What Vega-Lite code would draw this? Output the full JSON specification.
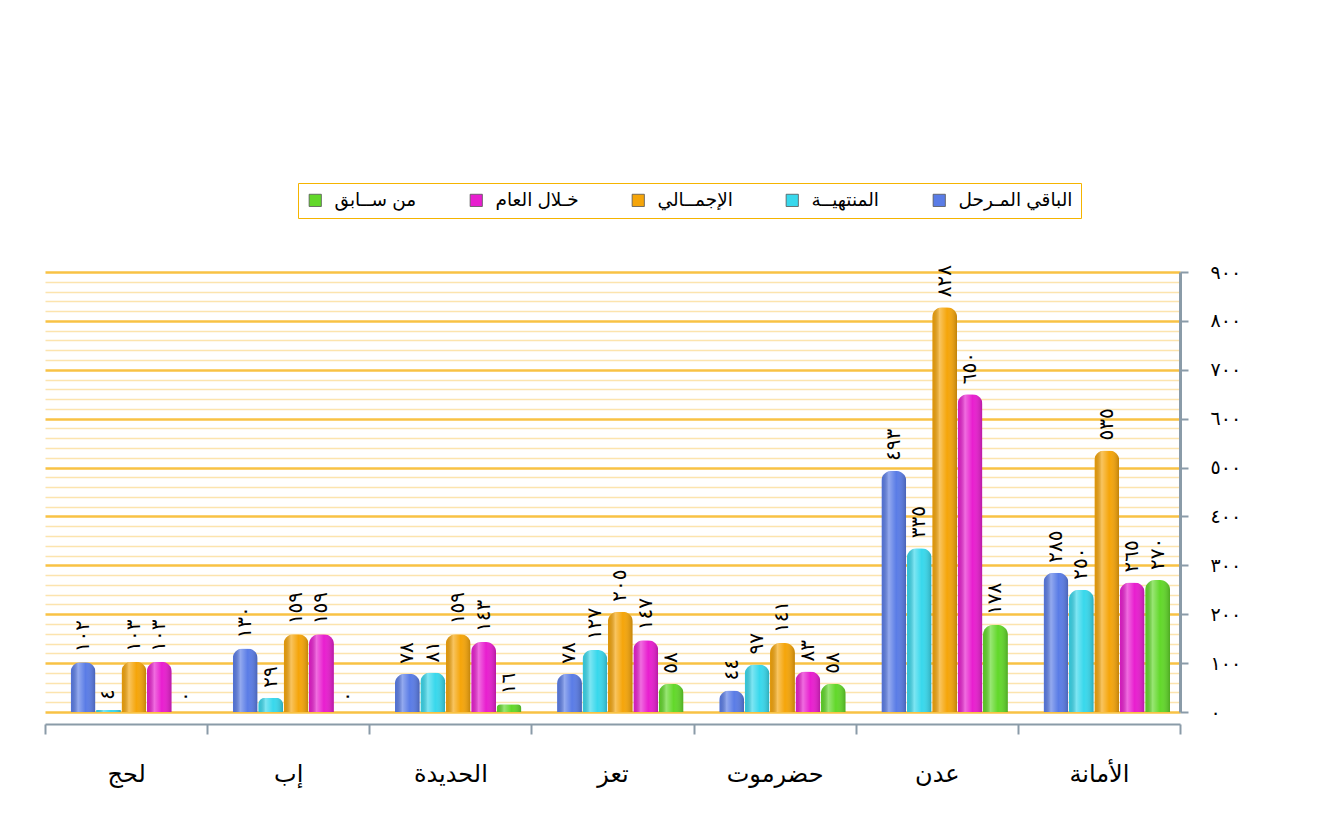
{
  "$schema": "https://vega.github.io/schema/vega-lite/v6.json",
  "width": 1135,
  "height": 440,
  "padding": {"left": 45, "top": 272, "right": 150, "bottom": 122},
  "autosize": {"type": "none"},
  "background": "white",
  "config": {"view": {"stroke": null}, "font": "Liberation Sans, DejaVu Sans"},
  "data": {"values": [
    {"region": "الأمانة", "series": "الباقي المـرحل", "value": 285, "label": "٢٨٥"},
    {"region": "الأمانة", "series": "المنتهيــة", "value": 250, "label": "٢٥٠"},
    {"region": "الأمانة", "series": "الإجمــالي", "value": 535, "label": "٥٣٥"},
    {"region": "الأمانة", "series": "خـلال العام", "value": 265, "label": "٢٦٥"},
    {"region": "الأمانة", "series": "من ســابق", "value": 270, "label": "٢٧٠"},
    {"region": "عدن", "series": "الباقي المـرحل", "value": 493, "label": "٤٩٣"},
    {"region": "عدن", "series": "المنتهيــة", "value": 335, "label": "٣٣٥"},
    {"region": "عدن", "series": "الإجمــالي", "value": 828, "label": "٨٢٨"},
    {"region": "عدن", "series": "خـلال العام", "value": 650, "label": "٦٥٠"},
    {"region": "عدن", "series": "من ســابق", "value": 178, "label": "١٧٨"},
    {"region": "حضرموت", "series": "الباقي المـرحل", "value": 44, "label": "٤٤"},
    {"region": "حضرموت", "series": "المنتهيــة", "value": 97, "label": "٩٧"},
    {"region": "حضرموت", "series": "الإجمــالي", "value": 141, "label": "١٤١"},
    {"region": "حضرموت", "series": "خـلال العام", "value": 83, "label": "٨٣"},
    {"region": "حضرموت", "series": "من ســابق", "value": 58, "label": "٥٨"},
    {"region": "تعز", "series": "الباقي المـرحل", "value": 78, "label": "٧٨"},
    {"region": "تعز", "series": "المنتهيــة", "value": 127, "label": "١٢٧"},
    {"region": "تعز", "series": "الإجمــالي", "value": 205, "label": "٢٠٥"},
    {"region": "تعز", "series": "خـلال العام", "value": 147, "label": "١٤٧"},
    {"region": "تعز", "series": "من ســابق", "value": 58, "label": "٥٨"},
    {"region": "الحديدة", "series": "الباقي المـرحل", "value": 78, "label": "٧٨"},
    {"region": "الحديدة", "series": "المنتهيــة", "value": 81, "label": "٨١"},
    {"region": "الحديدة", "series": "الإجمــالي", "value": 159, "label": "١٥٩"},
    {"region": "الحديدة", "series": "خـلال العام", "value": 143, "label": "١٤٣"},
    {"region": "الحديدة", "series": "من ســابق", "value": 16, "label": "١٦"},
    {"region": "إب", "series": "الباقي المـرحل", "value": 130, "label": "١٣٠"},
    {"region": "إب", "series": "المنتهيــة", "value": 29, "label": "٢٩"},
    {"region": "إب", "series": "الإجمــالي", "value": 159, "label": "١٥٩"},
    {"region": "إب", "series": "خـلال العام", "value": 159, "label": "١٥٩"},
    {"region": "إب", "series": "من ســابق", "value": 0, "label": "٠"},
    {"region": "لحج", "series": "الباقي المـرحل", "value": 102, "label": "١٠٢"},
    {"region": "لحج", "series": "المنتهيــة", "value": 4, "label": "٤"},
    {"region": "لحج", "series": "الإجمــالي", "value": 103, "label": "١٠٣"},
    {"region": "لحج", "series": "خـلال العام", "value": 103, "label": "١٠٣"},
    {"region": "لحج", "series": "من ســابق", "value": 0, "label": "٠"}
  ]},
  "encoding": {
    "x": {
      "field": "region", "type": "nominal",
      "sort": ["لحج", "إب", "الحديدة", "تعز", "حضرموت", "عدن", "الأمانة"],
      "scale": {"paddingInner": 0, "paddingOuter": 0},
      "axis": {
        "title": null, "orient": "bottom", "offset": 12, "grid": false,
        "domainColor": "#8A9BA8", "domainWidth": 2,
        "tickColor": "#8A9BA8", "tickWidth": 2, "tickSize": 10, "tickBand": "extent",
        "labelFontSize": 24, "labelPadding": 28, "labelColor": "black", "labelAngle": 0
      }
    },
    "xOffset": {
      "field": "series", "type": "nominal",
      "sort": ["الباقي المـرحل", "المنتهيــة", "الإجمــالي", "خـلال العام", "من ســابق"],
      "scale": {"paddingInner": 0.02, "paddingOuter": 0.7, "align": 0.72}
    },
    "y": {
      "field": "value", "type": "quantitative",
      "scale": {"domain": [0, 900], "nice": false},
      "axis": {
        "title": null, "orient": "right",
        "values": [0,20,40,60,80,100,120,140,160,180,200,220,240,260,280,300,320,340,360,380,400,420,440,460,480,500,520,540,560,580,600,620,640,660,680,700,720,740,760,780,800,820,840,860,880,900],
        "grid": true,
        "gridColor": {"condition": {"test": "datum.value % 100 == 0", "value": "#F8C244"}, "value": "#FCE4AE"},
        "gridWidth": {"condition": {"test": "datum.value % 100 == 0", "value": 2.5}, "value": 1.5},
        "tickColor": "#8A9BA8", "tickWidth": 2, "tickSize": 8,
        "tickOpacity": {"condition": {"test": "datum.value % 100 == 0", "value": 1}, "value": 0},
        "domainColor": "#8A9BA8", "domainWidth": 3,
        "labelExpr": "datum.value == 0 ? '٠' : datum.value == 100 ? '١٠٠' : datum.value == 200 ? '٢٠٠' : datum.value == 300 ? '٣٠٠' : datum.value == 400 ? '٤٠٠' : datum.value == 500 ? '٥٠٠' : datum.value == 600 ? '٦٠٠' : datum.value == 700 ? '٧٠٠' : datum.value == 800 ? '٨٠٠' : datum.value == 900 ? '٩٠٠' : ''",
        "labelOverlap": false, "labelFontSize": 19, "labelPadding": 22, "labelColor": "black"
      }
    }
  },
  "layer": [
    {
      "mark": {"type": "bar", "cornerRadiusTopLeft": 10, "cornerRadiusTopRight": 10},
      "encoding": {
        "color": {
          "field": "series", "type": "nominal",
          "scale": {
            "domain": ["الباقي المـرحل", "المنتهيــة", "الإجمــالي", "خـلال العام", "من ســابق"],
            "range": ["#5A7CE6", "#38D8EC", "#F5A50A", "#E81ECF", "#62D82A"]
          },
          "legend": {
            "orient": "none", "legendX": 253, "legendY": -89,
            "direction": "horizontal", "columns": 5, "title": null,
            "values": ["من ســابق", "خـلال العام", "الإجمــالي", "المنتهيــة", "الباقي المـرحل"],
            "symbolType": "square", "symbolSize": 150, "symbolStrokeColor": "#555", "symbolStrokeWidth": 0.8,
            "labelFontSize": 18.5, "labelColor": "black", "labelOffset": 10,
            "columnPadding": 50, "padding": 8,
            "fillColor": "white", "strokeColor": "#F5B400"
          }
        }
      }
    },
    {
      "mark": {
        "type": "bar", "cornerRadiusTopLeft": 10, "cornerRadiusTopRight": 10,
        "color": {
          "gradient": "linear", "x1": 0, "x2": 1, "y1": 0, "y2": 0,
          "stops": [
            {"offset": 0, "color": "rgba(0,0,0,0.08)"},
            {"offset": 0.3, "color": "rgba(255,255,255,0.35)"},
            {"offset": 0.6, "color": "rgba(255,255,255,0.0)"},
            {"offset": 1, "color": "rgba(0,0,0,0.22)"}
          ]
        }
      },
      "encoding": {}
    },
    {
      "mark": {"type": "text", "angle": 270, "align": "left", "baseline": "middle", "dx": 10, "fontSize": 20, "color": "black"},
      "encoding": {"text": {"field": "label"}}
    }
  ]
}
